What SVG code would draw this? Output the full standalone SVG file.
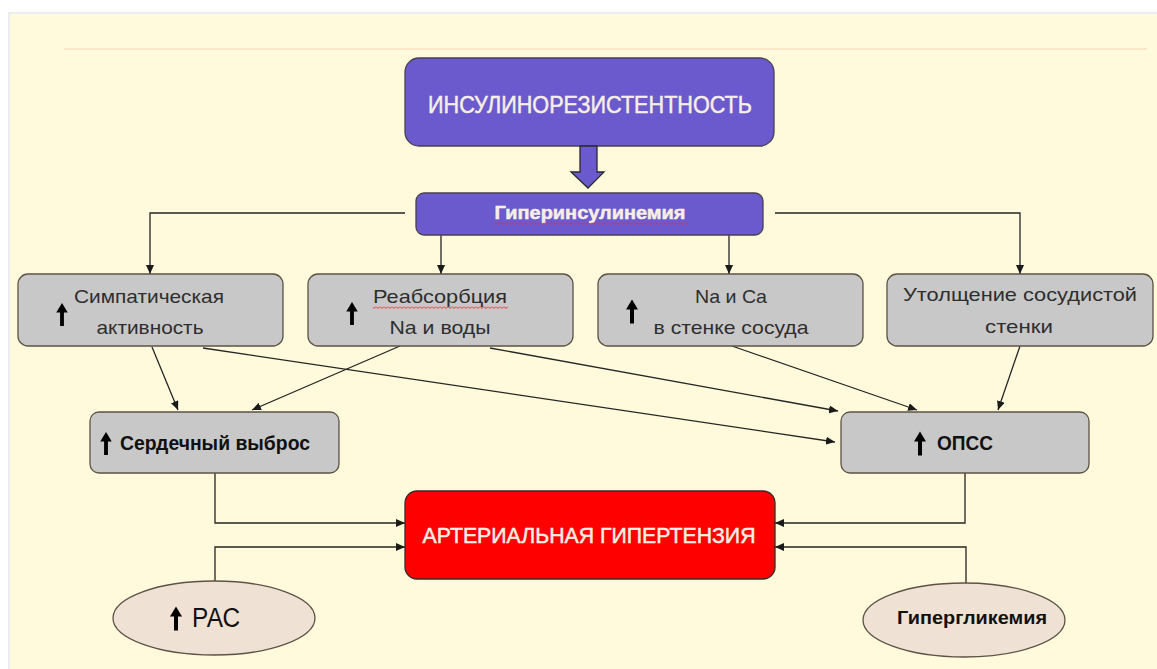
<svg xmlns="http://www.w3.org/2000/svg" width="1157" height="669" viewBox="0 0 1157 669">
  <defs>
    <marker id="ah" markerWidth="10" markerHeight="8" refX="9" refY="4" orient="auto" markerUnits="userSpaceOnUse">
      <path d="M0,0 L9,4 L0,8 Z" fill="#1a1a1a"/>
    </marker>
    <!-- thick "increase" arrow icon, tip at 0,0, 24 tall -->
    <symbol id="up" viewBox="-7 0 14 24" overflow="visible">
      <path d="M0,0 L6,10 L2,10 L2,24 L-2,24 L-2,10 L-6,10 Z" fill="#000"/>
    </symbol>
    <!-- red spell-check squiggle -->
    <pattern id="squiggle" x="0" y="0" width="4" height="3" patternUnits="userSpaceOnUse">
      <path d="M0,0.5 L2,2.5 L4,0.5" fill="none" stroke="#e53030" stroke-width="1"/>
    </pattern>
    <style>
      .gbox { fill: #c8c8c8; stroke: #5e5246; stroke-width: 1.3; }
      .ell { fill: #efe1d4; stroke: #5e5246; stroke-width: 1.3; }
      .lbl { font-family: "Liberation Sans", Arial, sans-serif; font-size: 19px; fill: #2e2e2e; text-anchor: middle; }
      .bold { font-family: "Liberation Sans", Arial, sans-serif; font-weight: bold; fill: #111; }
      .light { font-family: "Liberation Sans", Arial, sans-serif; fill: #f7efe4; stroke: #f7efe4; stroke-width: 0.5; text-anchor: middle; }
      #connectors path { fill: none; stroke: #262626; stroke-width: 1.3; marker-end: url(#ah); }
    </style>
  </defs>

  <!-- page background -->
  <rect x="0" y="0" width="1157" height="669" fill="#ffffff"/>
  <rect x="9" y="13" width="1150" height="660" fill="#fffadb" stroke="#ececec" stroke-width="2"/>
  <line x1="64" y1="49" x2="1147" y2="49" stroke="#fde6c6" stroke-width="2"/>

  <g id="connectors">
    <path d="M405,213 H150 V274"/>
    <path d="M775,213 H1020 V274"/>
    <path d="M441,235 V274"/>
    <path d="M729,235 V274"/>
    <path d="M152,347 L178,410"/>
    <path d="M400,346 L252,410"/>
    <path d="M203,348 L835,442"/>
    <path d="M490,348 L838,411"/>
    <path d="M732,346 L917,410"/>
    <path d="M1020,346 L998,410"/>
    <path d="M215,473 V523 H405"/>
    <path d="M965,473 V523 H775"/>
    <path d="M215,581 V547 H405"/>
    <path d="M966,584 V547 H775"/>
  </g>

  <g id="insulin-resistance">
    <rect x="405" y="58" width="369" height="88" rx="14" fill="#6a5acd" stroke="#4a4050" stroke-width="1.3"/>
    <text class="light" x="590" y="113" font-size="24" textLength="324" lengthAdjust="spacingAndGlyphs">ИНСУЛИНОРЕЗИСТЕНТНОСТЬ</text>
  </g>

  <g id="block-arrow">
    <path d="M580,146 H597 V172 H604 L588,188 L571,172 H580 Z" fill="#6a5acd" stroke="#2a2a2a" stroke-width="1.3"/>
  </g>

  <g id="hyperinsulinemia">
    <rect x="416" y="193" width="347" height="42" rx="8" fill="#6a5acd" stroke="#4a4050" stroke-width="1.3"/>
    <text class="light" x="590" y="219" font-size="18" font-weight="bold" stroke-width="0" textLength="191" lengthAdjust="spacingAndGlyphs">Гиперинсулинемия</text>
    <rect x="494" y="222" width="194" height="3" fill="url(#squiggle)"/>
  </g>

  <g id="sympathetic">
    <rect class="gbox" x="18" y="274" width="265" height="72" rx="10"/>
    <use href="#up" x="55" y="303" width="14" height="23"/>
    <text class="lbl" x="149" y="303" textLength="150" lengthAdjust="spacingAndGlyphs">Симпатическая</text>
    <text class="lbl" x="150" y="334" textLength="107" lengthAdjust="spacingAndGlyphs">активность</text>
  </g>

  <g id="reabsorption">
    <rect class="gbox" x="308" y="274" width="265" height="72" rx="10"/>
    <use href="#up" x="345" y="302" width="14" height="23"/>
    <text class="lbl" x="440" y="303" textLength="134" lengthAdjust="spacingAndGlyphs">Реабсорбция</text>
    <rect x="373" y="306" width="135" height="3" fill="url(#squiggle)"/>
    <text class="lbl" x="440" y="334" textLength="101" lengthAdjust="spacingAndGlyphs">Na и воды</text>
  </g>

  <g id="na-ca">
    <rect class="gbox" x="598" y="274" width="265" height="72" rx="10"/>
    <use href="#up" x="625" y="298" width="14" height="27"/>
    <text class="lbl" x="731" y="303" textLength="72" lengthAdjust="spacingAndGlyphs">Na и Ca</text>
    <text class="lbl" x="731" y="334" textLength="155" lengthAdjust="spacingAndGlyphs">в стенке сосуда</text>
  </g>

  <g id="wall-thickening">
    <rect class="gbox" x="887" y="274" width="266" height="72" rx="10"/>
    <text class="lbl" x="1020" y="301" textLength="234" lengthAdjust="spacingAndGlyphs">Утолщение сосудистой</text>
    <text class="lbl" x="1019" y="333" textLength="68" lengthAdjust="spacingAndGlyphs">стенки</text>
  </g>

  <g id="cardiac-output">
    <rect class="gbox" x="90" y="412" width="249" height="61" rx="9"/>
    <use href="#up" x="99" y="432" width="14" height="23"/>
    <text class="bold" x="120" y="450" font-size="20" textLength="190" lengthAdjust="spacingAndGlyphs">Сердечный выброс</text>
  </g>

  <g id="opss">
    <rect class="gbox" x="841" y="412" width="248" height="61" rx="9"/>
    <use href="#up" x="913" y="430" width="14" height="27"/>
    <text class="bold" x="937" y="450" font-size="20" textLength="56" lengthAdjust="spacingAndGlyphs">ОПСС</text>
  </g>

  <g id="hypertension">
    <rect x="405" y="491" width="370" height="88" rx="12" fill="#ff0000" stroke="#3a2a2a" stroke-width="1.3"/>
    <text class="light" x="589" y="543" font-size="22" textLength="333" lengthAdjust="spacingAndGlyphs">АРТЕРИАЛЬНАЯ ГИПЕРТЕНЗИЯ</text>
  </g>

  <g id="ras">
    <ellipse class="ell" cx="214" cy="618" rx="101" ry="37"/>
    <use href="#up" x="169" y="605" width="14" height="27"/>
    <text x="192" y="627" font-family="Liberation Sans, Arial, sans-serif" font-size="27" fill="#111" textLength="48" lengthAdjust="spacingAndGlyphs">РАС</text>
  </g>

  <g id="hyperglycemia">
    <ellipse class="ell" cx="964" cy="620" rx="101" ry="37"/>
    <text class="bold" x="897" y="624" font-size="18" textLength="150" lengthAdjust="spacingAndGlyphs">Гипергликемия</text>
  </g>
</svg>
